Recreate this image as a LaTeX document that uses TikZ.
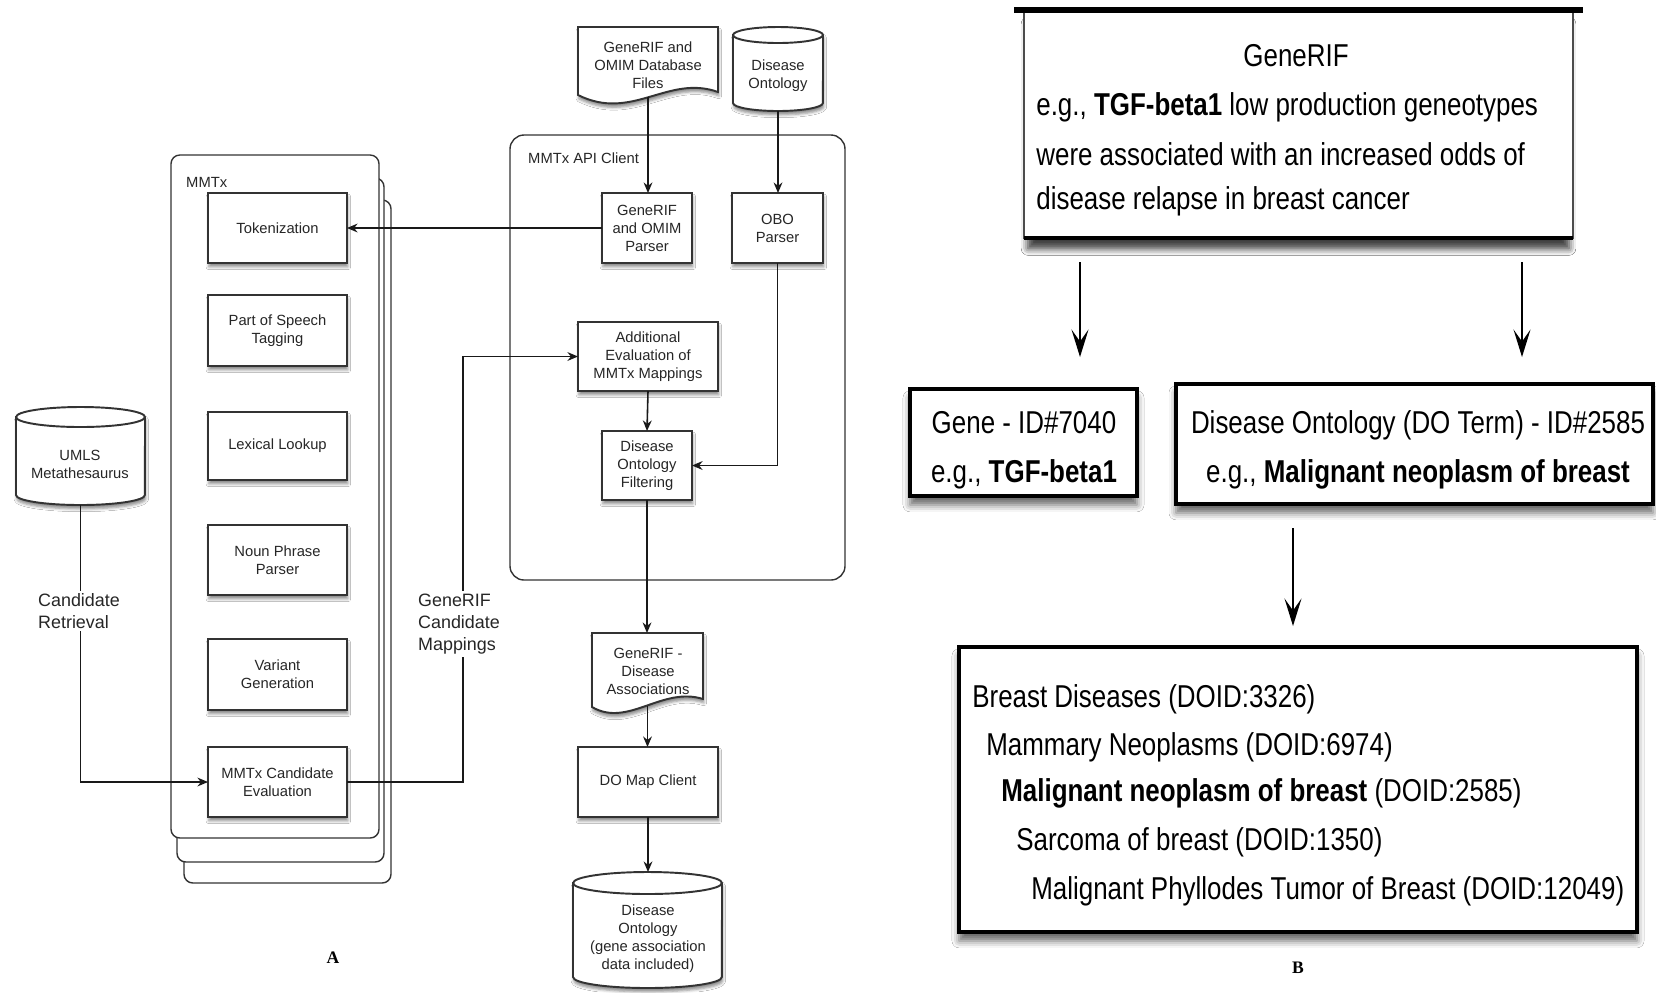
\documentclass[tikz,border=0pt]{standalone}
\usepackage{fontspec}
\setmainfont{Liberation Sans}
\newfontfamily\condfont[FakeStretch=0.82]{Liberation Sans}
\newfontfamily\tagfont{Liberation Serif}
\usetikzlibrary{fit,arrows.meta,shadows.blur,calc}

% database drum: name, x1, y1, x2, y2, ellipse half-height (all in picture units)
\newcommand{\drum}[6]{%
  \pgfmathsetmacro{\drumrx}{(#4-#2)*0.01}%
  \pgfmathsetmacro{\drumry}{#6*0.02}%
  \path[drumbody] (#2,#3+#6) -- (#2,#5-#6)
    arc[start angle=180,end angle=360,x radius=\drumrx cm,y radius=\drumry cm]
    -- (#4,#3+#6)
    arc[start angle=0,end angle=180,x radius=\drumrx cm,y radius=\drumry cm] -- cycle;
  \draw[drumedge] (#2,#3+#6)
    arc[start angle=180,end angle=360,x radius=\drumrx cm,y radius=\drumry cm];
  \node[area, fit={(#2,#3) (#4,#5)}] (#1) {};
}

\begin{document}
\begin{tikzpicture}[x=0.02cm,y=-0.02cm,
  area/.style={inner sep=0pt, outer sep=0pt},
  frame/.style={draw=black!80, line width=0.8pt, rounded corners=5pt, fill=white},
  smalltext/.style={font=\fontsize{8.4}{10.2}\selectfont, text=black!85, align=center},
  stepbox/.style={area, draw=black!80, line width=1.1pt, fill=white,
    blur shadow={shadow xshift=0.5pt, shadow yshift=-2.2pt, shadow opacity=45, shadow blur radius=1.6pt}},
  boxtext/.style={label={[smalltext]center:#1}},
  drumbody/.style={draw=black!80, line width=1.1pt, fill=white,
    blur shadow={shadow xshift=0.5pt, shadow yshift=-2.2pt, shadow opacity=45, shadow blur radius=1.6pt}},
  drumedge/.style={draw=black!80, line width=1.1pt},
  flow/.style={draw=black!90, line width=0.9pt, -{Stealth[length=6pt,width=5pt]}},
  edgelabel/.style={font=\fontsize{10.2}{12.4}\selectfont, text=black!85, align=left, fill=white, inner sep=1.5pt},
  bigbox/.style={area, draw=black, line width=2pt, fill=white,
    blur shadow={shadow xshift=0pt, shadow yshift=-5pt, shadow opacity=60, shadow blur radius=4pt}},
  bigtext/.style={font=\condfont\fontsize{18}{27.9}\selectfont, text=black, inner sep=0pt},
  bigarrow/.style={draw=black, line width=1.3pt, -{Stealth[length=0.55cm,width=0.34cm,inset=0.24cm]}},
  paneltag/.style={font=\tagfont\bfseries\fontsize{10}{12}\selectfont}
]
\fill[white] (0,0) rectangle (1656,992);
\useasboundingbox (0,0) rectangle (1656,992);

% ---------------- panel A: MMTx stack ----------------
\draw[frame] (184,200) rectangle (391,883);
\draw[frame] (177,178) rectangle (384,862);
\draw[frame] (171,155) rectangle (379,838);
\node[smalltext, anchor=west] (mmtxlabel) at (180,182) {MMTx};

\node[stepbox, fit={(208,193) (347,263)}, boxtext={Tokenization}] (tok) {};
\node[stepbox, fit={(208,295) (347,366)}, boxtext={Part of Speech\\Tagging}] (pos) {};
\node[stepbox, fit={(208,412) (347,480)}, boxtext={Lexical Lookup}] (lex) {};
\node[stepbox, fit={(208,525) (347,595)}, boxtext={Noun Phrase\\Parser}] (npp) {};
\node[stepbox, fit={(208,639) (347,710)}, boxtext={Variant\\Generation}] (var) {};
\node[stepbox, fit={(208,747) (347,817)}, boxtext={MMTx Candidate\\Evaluation}] (cand) {};

% UMLS source
\drum{umls}{16}{407}{145}{505}{10}
\node[smalltext] (umlstext) at (80,464) {UMLS\\Metathesaurus};

% ---------------- panel A: API client ----------------
\draw[frame, rounded corners=8pt, fill=none] (510,135) rectangle (845,580);
\node[smalltext, anchor=west] (apilabel) at (522,158) {MMTx API Client};

% input files
\path[drumbody] (578,27) -- (718,27) -- (718,92)
  .. controls (668,74) and (632,122) .. (578,95) -- cycle;
\node[area, fit={(578,27) (718,97)}] (infiles) {};
\node[smalltext] (infilestext) at (648,65) {GeneRIF and\\OMIM Database\\Files};
\drum{dotop}{733}{27}{823}{111}{8}
\node[smalltext] (dotoptext) at (778,76) {Disease\\Ontology};

\node[stepbox, fit={(602,193) (692,263)}, boxtext={GeneRIF\\and OMIM\\Parser}] (genparser) {};
\node[stepbox, fit={(732,193) (823,263)}, boxtext={OBO\\Parser}] (obo) {};
\node[stepbox, fit={(578,322) (718,391)}, boxtext={Additional\\Evaluation of\\MMTx Mappings}] (addeval) {};
\node[stepbox, fit={(602,431) (692,500)}, boxtext={Disease\\Ontology\\Filtering}] (filter) {};

% outputs
\path[drumbody] (592,633) -- (703,633) -- (703,699)
  .. controls (662,686) and (628,728) .. (592,707) -- cycle;
\node[area, fit={(592,633) (703,706)}] (assoc) {};
\node[smalltext] (assoctext) at (648,671) {GeneRIF -\\Disease\\Associations};
\node[stepbox, fit={(578,747) (718,817)}, boxtext={DO Map Client}] (domap) {};
\drum{dobot}{573}{872}{722}{988}{11}
\node[smalltext] (dobottext) at (648,939) {Disease\\Ontology\\(gene association\\data included)};

% connectors of panel A
\coordinate (mapcol) at (463,0);
\draw[flow] (infiles.south) -- (infiles.south |- genparser.north);
\draw[flow] (dotop.south) -- (dotop.south |- obo.north);
\draw[flow] (genparser.west) -- (tok.east |- genparser.west);
\draw[flow] (obo.south) |- (filter.east);
\draw[flow] (addeval.south) -- (filter.north);
\draw[flow] (filter.south) -- (filter.south |- assoc.north);
\draw[flow] (assoc.south) -- (assoc.south |- domap.north);
\draw[flow] (domap.south) -- (domap.south |- dobot.north);
\draw[flow] (umls.south) |- (cand.west);
\draw[flow] (cand.east) -| (mapcol |- addeval.west) -- (addeval.west);
\node[edgelabel] (retrieval) at (79,611) {Candidate\\Retrieval};
\node[edgelabel] (mappings) at (459,624) {GeneRIF\\Candidate\\Mappings};

\node[paneltag] (tagA) at (333,958) {A};

% ---------------- panel B ----------------
\node[bigbox, draw=black!70, line width=1.2pt,
  blur shadow={shadow xshift=0pt, shadow yshift=-7pt, shadow opacity=50, shadow blur radius=4pt, shadow scale=0.985},
  fit={(1024,10) (1573,238)}] (generif) {};
\draw[line width=3pt] ($(generif.north west)+(-10,0)$) -- ($(generif.north east)+(10,0)$);
\draw[line width=2pt] (generif.south west) -- (generif.south east);
\node[bigtext] (grtitle) at (1296,56) {GeneRIF};
\node[bigtext, anchor=west] (grline1) at (1036,107) {e.g., \textbf{TGF-beta1} low production geneotypes};
\node[bigtext, anchor=west] (grline2) at (1036,154) {were associated with an increased odds of};
\node[bigtext, anchor=west] (grline3) at (1036,201) {disease relapse in breast cancer};

\node[bigbox, fit={(910,389) (1137,496)}] (gene) {};
\node[bigtext, align=center] (genetext) at (1024,450) {Gene - ID\#7040\\e.g., \textbf{TGF-beta1}};

\node[bigbox, fit={(1176,384) (1653,504)}] (doterm) {};
\node[bigtext, align=center] (dotermtext) at (1418,450) {Disease Ontology (DO Term) - ID\#2585\\e.g., \textbf{Malignant neoplasm of breast}};

\node[bigbox, line width=1.8pt, fit={(959,647) (1637,932)}] (tree) {};
\node[bigtext, anchor=west] (t1) at (972,699) {Breast Diseases (DOID:3326)};
\node[bigtext, anchor=west] (t2) at (986,747) {Mammary Neoplasms (DOID:6974)};
\node[bigtext, anchor=west] (t3) at (1001,793) {\textbf{Malignant neoplasm of breast} (DOID:2585)};
\node[bigtext, anchor=west] (t4) at (1016,842) {Sarcoma of breast (DOID:1350)};
\node[bigtext, anchor=west] (t5) at (1031,891) {Malignant Phyllodes Tumor of Breast (DOID:12049)};

\coordinate (leftcol) at (1080,0);
\coordinate (rightcol) at (1522,0);
\coordinate (midcol) at (1293,0);
\draw[bigarrow, shorten <=0.48cm, shorten >=0.64cm] (generif.south -| leftcol) -- (gene.north -| leftcol);
\draw[bigarrow, shorten <=0.48cm, shorten >=0.54cm] (generif.south -| rightcol) -- (doterm.north -| rightcol);
\draw[bigarrow, shorten <=0.48cm, shorten >=0.42cm] (doterm.south -| midcol) -- (tree.north -| midcol);

\node[paneltag] (tagB) at (1298,968) {B};
\end{tikzpicture}
\end{document}
